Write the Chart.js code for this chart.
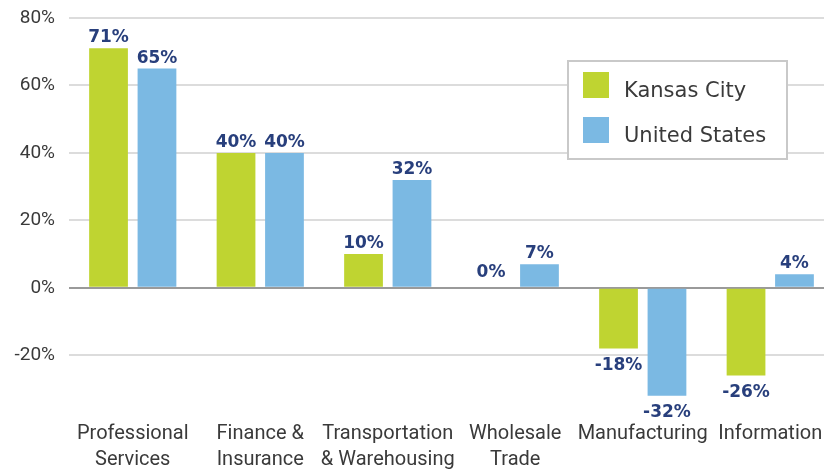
<!DOCTYPE html>
<html>
<head>
<meta charset="utf-8">
<script src="https://cdn.jsdelivr.net/npm/chart.js@4"></script>
<style>
  html, body { margin: 0; padding: 0; background: #fff; overflow: hidden; }
  #myChart { display: block; }
</style>
</head>
<body>
<canvas id="myChart" width="834" height="469"></canvas>
<script>
const categories = [
  ["Professional", "Services"],
  ["Finance &", "Insurance"],
  ["Transportation", "& Warehousing"],
  ["Wholesale", "Trade"],
  ["Manufacturing"],
  ["Information"],
];
const kansasCity = [71, 40, 10, 0, -18, -26];
const unitedStates = [65, 40, 32, 7, -32, 4];
const yTicks = [-20, 0, 20, 40, 60, 80];

const green = "#bfd431";
const blue = "#7bb9e3";

// labels on top of / under each bar
const valueLabels = {
  id: "valueLabels",
  afterDatasetsDraw(chart) {
    const c = chart.ctx;
    c.save();
    c.font = "bold 17px 'DejaVu Sans'";
    c.fillStyle = "#283f7c";
    c.textAlign = "center";
    c.textBaseline = "alphabetic";
    chart.data.datasets.forEach((ds, i) => {
      chart.getDatasetMeta(i).data.forEach((bar, j) => {
        let v = ds.data[j];
        let y = v < 0 ? bar.y + 21 : bar.y - (v == 0 ? 11 : 6);
        c.fillText(v + "%", bar.x, y);
      });
    });
    c.restore();
  },
};

// boxed legend inside the plot
const boxLegend = {
  id: "boxLegend",
  afterDraw(chart) {
    const c = chart.ctx;
    c.save();
    c.fillStyle = "#fff";
    c.fillRect(568, 61, 219, 98);
    c.strokeStyle = "#c9c9c9";
    c.lineWidth = 2;
    c.strokeRect(568, 61, 219, 98);
    c.font = "21px 'DejaVu Sans'";
    c.textBaseline = "alphabetic";
    chart.data.datasets.forEach((ds, i) => {
      let y = 72 + i * 45;
      c.fillStyle = ds.backgroundColor;
      c.fillRect(583, y, 26, 26);
      c.fillStyle = "#3a3a3a";
      c.fillText(ds.label, 624, y + 25);
    });
    c.restore();
  },
};

const ChartData = {
  type: "bar",
  data: {
    labels: categories,
    datasets: [
      {
        label: "Kansas City",
        data: kansasCity,
        backgroundColor: green,
      },
      {
        label: "United States",
        data: unitedStates,
        backgroundColor: blue,
      },
    ],
  },
  options: {
    responsive: false,
    animation: false,
    categoryPercentage: 0.76,
    barPercentage: 0.8,
    layout: { padding: { top: 18, left: 0, right: 0, bottom: 0 } },
    plugins: {
      legend: { display: false },
      tooltip: { enabled: false },
    },
    scales: {
      x: {
        grid: { display: false, drawTicks: false },
        border: { display: false },
        ticks: {
          padding: 5,
          color: "#3a3a3a",
          font: { family: "Roboto", size: 20, lineHeight: 1.3 },
          maxRotation: 0,
          autoSkip: false,
        },
        afterFit: (scale) => {
          scale.height = 53;
          scale.paddingLeft = 0;
          scale.paddingRight = 0;
        },
      },
      y: {
        min: -38,
        max: 80,
        afterBuildTicks: (scale) => {
          scale.ticks = yTicks.map((v) => ({ value: v }));
        },
        afterFit: (scale) => {
          scale.width = 69;
          scale.paddingTop = 0;
          scale.paddingBottom = 0;
        },
        grid: {
          drawTicks: false,
          lineWidth: 2,
          color: (ctx) => (ctx.tick && ctx.tick.value === 0 ? "#9a9a9a" : "#dcdcdc"),
        },
        border: { display: false },
        ticks: {
          padding: 14,
          color: "#3a3a3a",
          font: { family: "Roboto", size: 19 },
          callback: (v) => v + "%",
        },
      },
    },
  },
  plugins: [valueLabels, boxLegend],
};

const ctx = document.getElementById("myChart").getContext("2d");
const myCharter = new Chart(ctx, ChartData);
</script>
</body>
</html>
